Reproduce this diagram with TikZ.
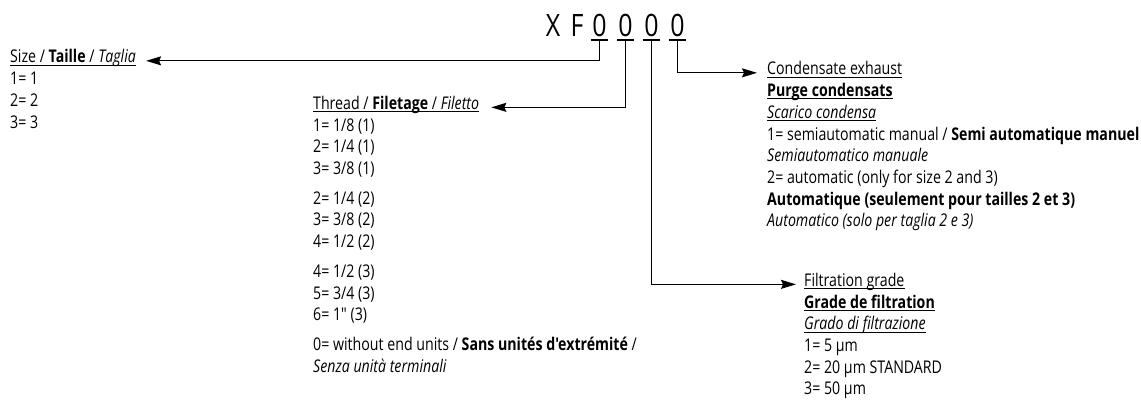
\documentclass[tikz,border=0pt]{standalone}
\usepackage{fontspec}
\usetikzlibrary{arrows.meta}
\newfontfamily\bodyfont{Open Sans}[FakeStretch=0.81]
\begin{document}
\begin{tikzpicture}[x=1pt,y=-1pt,
  txt/.style={inner sep=0pt, anchor=base west, align=left,
    font=\bodyfont\fontsize{17.5}{21.7}\selectfont},
  ttl/.style={inner sep=0pt, anchor=base,
    font=\bodyfont\fontsize{30.8}{34}\selectfont},
  dig/.style={ttl, minimum width=17pt, inner ysep=2.5pt},
  rule/.style={line width=1.2pt},
  uline/.style={line width=1.1pt},
  conn/.style={line width=1.2pt, -{Stealth[length=15pt,width=9pt,inset=2pt]}},
]
\path[use as bounding box] (0,0) rectangle (1141,403);
% title
\node[ttl] (tx) at (553,37) {X};
\node[ttl] (tf) at (577,37) {F};
\node[dig] (d1) at (599.5,37) {0};
\node[dig] (d2) at (625.5,37) {0};
\node[dig] (d3) at (651.5,37) {0};
\node[dig] (d4) at (677.5,37) {0};
\foreach \d in {d1,d2,d3,d4}{\draw[rule] (\d.south west) -- (\d.south east);}
% size (multi-line nodes: base = last line)
\node[txt] (size) at (10,63) {Size / \textbf{Taille} / \textit{Taglia}};
\node[txt] (sizeb) at (10,128.1) {1= 1\\2= 2\\3= 3};
% thread
\node[txt] (thr) at (313,109.5) {Thread / \textbf{Filetage} / \textit{Filetto}};
\node[txt] (thrb) at (313,372.2) {1= 1/8 (1)\\2= 1/4 (1)\\3= 3/8 (1)\\[8pt]
2= 1/4 (2)\\3= 3/8 (2)\\4= 1/2 (2)\\[8pt]
4= 1/2 (3)\\5= 3/4 (3)\\6= 1" (3)\\[8pt]
0= without end units / \textbf{Sans unités d'extrémité} /\\
\textit{Senza unità terminali}};
% condensate
\node[txt] (cond) at (767,75) {Condensate exhaust};
\node[txt] (cond2) at (767,96.7) {\textbf{Purge condensats}};
\node[txt] (cond3) at (767,118.4) {\textit{Scarico condensa}};
\node[txt] (condb) at (767,226.9) {1= semiautomatic manual / \textbf{Semi automatique manuel}\\
\textit{Semiautomatico manuale}\\
2= automatic (only for size 2 and 3)\\
\textbf{Automatique (seulement pour tailles 2 et 3)}\\
\textit{Automatico (solo per taglia 2 e 3)}};
% filtration
\node[txt] (filt) at (804,286.5) {Filtration grade};
\node[txt] (filt2) at (804,308.2) {\textbf{Grade de filtration}};
\node[txt] (filt3) at (804,329.9) {\textit{Grado di filtrazione}};
\node[txt] (filtb) at (804,395) {1= 5 µm\\2= 20 µm STANDARD\\3= 50 µm};
% underlines
\foreach \n in {size,thr,cond,cond2,cond3,filt,filt2,filt3}{
  \draw[uline] ([yshift=-2.2pt]\n.base west) -- ([yshift=-2.2pt]\n.base east);}
% connectors
\draw[conn] (d1.south) |- ([xshift=10pt]size.mid east);
\draw[conn] (d2.south) |- ([xshift=12pt]thr.mid east);
\draw[conn] (d4.south) |- ([xshift=-10pt]cond.mid west);
\draw[conn] (d3.south) |- ([xshift=-8pt]filt.mid west);
\end{tikzpicture}
\end{document}
